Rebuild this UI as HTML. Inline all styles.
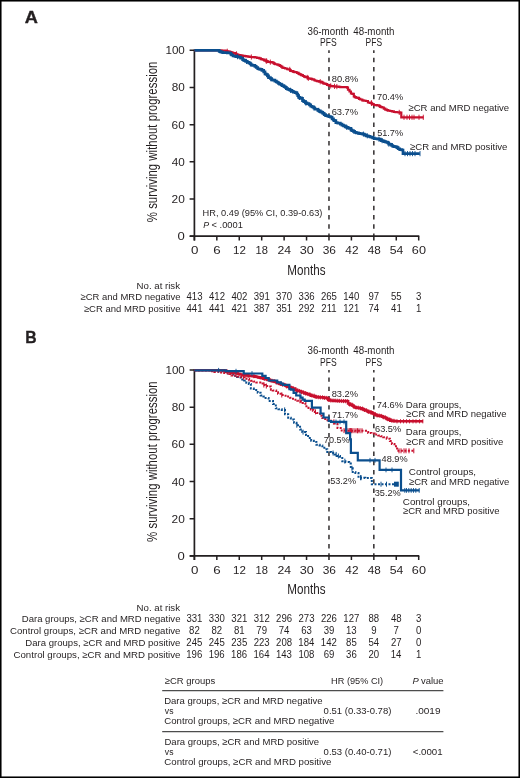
<!DOCTYPE html>
<html><head><meta charset="utf-8"><style>html,body{margin:0;padding:0;background:#fff;width:520px;height:778px;overflow:hidden}svg{display:block;font-family:"Liberation Sans",sans-serif}</style></head>
<body>
<svg style="will-change:transform" width="520" height="778" viewBox="0 0 520 778" font-family="Liberation Sans, sans-serif">
<rect width="520" height="778" fill="#fff"/>
<text x="24.69" y="23.10" font-size="17" textLength="13.15" lengthAdjust="spacingAndGlyphs" font-weight="bold" fill="#231f20" stroke="#231f20" stroke-width="0.35">A</text>
<path d="M194.40 49.60V240.40M189.80 236.20H419.30" stroke="#231f20" stroke-width="1.7" fill="none"/>
<path d="M189.60 236.20H194.40M189.60 199.02H194.40M189.60 161.84H194.40M189.60 124.66H194.40M189.60 87.48H194.40M189.60 50.30H194.40M194.40 236.20V240.40M216.83 236.20V240.40M239.26 236.20V240.40M261.69 236.20V240.40M284.12 236.20V240.40M306.55 236.20V240.40M328.98 236.20V240.40M351.41 236.20V240.40M373.84 236.20V240.40M396.27 236.20V240.40M418.70 236.20V240.40" stroke="#231f20" stroke-width="1.5" fill="none"/>
<text x="177.57" y="240.20" font-size="10.5" textLength="7.30" lengthAdjust="spacingAndGlyphs" fill="#231f20">0</text>
<text x="171.60" y="203.02" font-size="10.5" textLength="13.24" lengthAdjust="spacingAndGlyphs" fill="#231f20">20</text>
<text x="171.76" y="165.84" font-size="10.5" textLength="13.07" lengthAdjust="spacingAndGlyphs" fill="#231f20">40</text>
<text x="171.60" y="128.66" font-size="10.5" textLength="13.24" lengthAdjust="spacingAndGlyphs" fill="#231f20">60</text>
<text x="171.77" y="91.48" font-size="10.5" textLength="13.07" lengthAdjust="spacingAndGlyphs" fill="#231f20">80</text>
<text x="165.43" y="54.30" font-size="10.5" textLength="19.42" lengthAdjust="spacingAndGlyphs" fill="#231f20">100</text>
<text x="190.97" y="254.10" font-size="10.5" textLength="7.42" lengthAdjust="spacingAndGlyphs" fill="#231f20">0</text>
<text x="213.36" y="254.10" font-size="10.5" textLength="7.42" lengthAdjust="spacingAndGlyphs" fill="#231f20">6</text>
<text x="232.99" y="254.10" font-size="10.5" textLength="12.87" lengthAdjust="spacingAndGlyphs" fill="#231f20">12</text>
<text x="255.60" y="254.10" font-size="10.5" textLength="12.41" lengthAdjust="spacingAndGlyphs" fill="#231f20">18</text>
<text x="277.51" y="254.10" font-size="10.5" textLength="13.61" lengthAdjust="spacingAndGlyphs" fill="#231f20">24</text>
<text x="299.79" y="254.10" font-size="10.5" textLength="14.08" lengthAdjust="spacingAndGlyphs" fill="#231f20">30</text>
<text x="322.65" y="254.10" font-size="10.5" textLength="13.28" lengthAdjust="spacingAndGlyphs" fill="#231f20">36</text>
<text x="345.32" y="254.10" font-size="10.5" textLength="13.16" lengthAdjust="spacingAndGlyphs" fill="#231f20">42</text>
<text x="367.76" y="254.10" font-size="10.5" textLength="13.03" lengthAdjust="spacingAndGlyphs" fill="#231f20">48</text>
<text x="389.73" y="254.10" font-size="10.5" textLength="13.58" lengthAdjust="spacingAndGlyphs" fill="#231f20">54</text>
<text x="411.87" y="254.10" font-size="10.5" textLength="14.11" lengthAdjust="spacingAndGlyphs" fill="#231f20">60</text>
<text x="287.37" y="274.70" font-size="14.2" textLength="38.23" lengthAdjust="spacingAndGlyphs" fill="#231f20">Months</text>
<text transform="translate(157.00 142.10) rotate(-90)" x="-80.10" y="0" font-size="14.4" textLength="160.57" lengthAdjust="spacingAndGlyphs" fill="#231f20">% surviving without progression</text>
<text x="307.51" y="34.70" font-size="10" textLength="41.22" lengthAdjust="spacingAndGlyphs" fill="#231f20">36-month</text>
<text x="320.01" y="45.80" font-size="10" textLength="16.67" lengthAdjust="spacingAndGlyphs" fill="#231f20">PFS</text>
<text x="353.31" y="34.70" font-size="10" textLength="41.13" lengthAdjust="spacingAndGlyphs" fill="#231f20">48-month</text>
<text x="365.62" y="45.80" font-size="10" textLength="16.46" lengthAdjust="spacingAndGlyphs" fill="#231f20">PFS</text>
<path d="M328.98 50.30V236.20" stroke="#231f20" stroke-width="1.4" stroke-dasharray="4.45 4.807" stroke-dashoffset="1.86" fill="none"/>
<path d="M373.84 50.30V236.20" stroke="#231f20" stroke-width="1.4" stroke-dasharray="4.45 4.807" stroke-dashoffset="1.86" fill="none"/>
<text x="25.13" y="342.80" font-size="17" textLength="11.37" lengthAdjust="spacingAndGlyphs" font-weight="bold" fill="#231f20" stroke="#231f20" stroke-width="0.35">B</text>
<path d="M194.40 369.30V560.10M189.80 555.90H419.30" stroke="#231f20" stroke-width="1.7" fill="none"/>
<path d="M189.60 555.90H194.40M189.60 518.72H194.40M189.60 481.54H194.40M189.60 444.36H194.40M189.60 407.18H194.40M189.60 370.00H194.40M194.40 555.90V560.10M216.83 555.90V560.10M239.26 555.90V560.10M261.69 555.90V560.10M284.12 555.90V560.10M306.55 555.90V560.10M328.98 555.90V560.10M351.41 555.90V560.10M373.84 555.90V560.10M396.27 555.90V560.10M418.70 555.90V560.10" stroke="#231f20" stroke-width="1.5" fill="none"/>
<text x="177.57" y="559.90" font-size="10.5" textLength="7.30" lengthAdjust="spacingAndGlyphs" fill="#231f20">0</text>
<text x="171.60" y="522.72" font-size="10.5" textLength="13.24" lengthAdjust="spacingAndGlyphs" fill="#231f20">20</text>
<text x="171.76" y="485.54" font-size="10.5" textLength="13.07" lengthAdjust="spacingAndGlyphs" fill="#231f20">40</text>
<text x="171.60" y="448.36" font-size="10.5" textLength="13.24" lengthAdjust="spacingAndGlyphs" fill="#231f20">60</text>
<text x="171.77" y="411.18" font-size="10.5" textLength="13.07" lengthAdjust="spacingAndGlyphs" fill="#231f20">80</text>
<text x="165.43" y="374.00" font-size="10.5" textLength="19.42" lengthAdjust="spacingAndGlyphs" fill="#231f20">100</text>
<text x="190.97" y="573.80" font-size="10.5" textLength="7.42" lengthAdjust="spacingAndGlyphs" fill="#231f20">0</text>
<text x="213.36" y="573.80" font-size="10.5" textLength="7.42" lengthAdjust="spacingAndGlyphs" fill="#231f20">6</text>
<text x="232.99" y="573.80" font-size="10.5" textLength="12.87" lengthAdjust="spacingAndGlyphs" fill="#231f20">12</text>
<text x="255.60" y="573.80" font-size="10.5" textLength="12.41" lengthAdjust="spacingAndGlyphs" fill="#231f20">18</text>
<text x="277.51" y="573.80" font-size="10.5" textLength="13.61" lengthAdjust="spacingAndGlyphs" fill="#231f20">24</text>
<text x="299.79" y="573.80" font-size="10.5" textLength="14.08" lengthAdjust="spacingAndGlyphs" fill="#231f20">30</text>
<text x="322.65" y="573.80" font-size="10.5" textLength="13.28" lengthAdjust="spacingAndGlyphs" fill="#231f20">36</text>
<text x="345.32" y="573.80" font-size="10.5" textLength="13.16" lengthAdjust="spacingAndGlyphs" fill="#231f20">42</text>
<text x="367.76" y="573.80" font-size="10.5" textLength="13.03" lengthAdjust="spacingAndGlyphs" fill="#231f20">48</text>
<text x="389.73" y="573.80" font-size="10.5" textLength="13.58" lengthAdjust="spacingAndGlyphs" fill="#231f20">54</text>
<text x="411.87" y="573.80" font-size="10.5" textLength="14.11" lengthAdjust="spacingAndGlyphs" fill="#231f20">60</text>
<text x="287.37" y="594.40" font-size="14.2" textLength="38.23" lengthAdjust="spacingAndGlyphs" fill="#231f20">Months</text>
<text transform="translate(157.00 461.80) rotate(-90)" x="-80.10" y="0" font-size="14.4" textLength="160.57" lengthAdjust="spacingAndGlyphs" fill="#231f20">% surviving without progression</text>
<text x="307.51" y="354.40" font-size="10" textLength="41.22" lengthAdjust="spacingAndGlyphs" fill="#231f20">36-month</text>
<text x="320.01" y="365.50" font-size="10" textLength="16.67" lengthAdjust="spacingAndGlyphs" fill="#231f20">PFS</text>
<text x="353.31" y="354.40" font-size="10" textLength="41.13" lengthAdjust="spacingAndGlyphs" fill="#231f20">48-month</text>
<text x="365.62" y="365.50" font-size="10" textLength="16.46" lengthAdjust="spacingAndGlyphs" fill="#231f20">PFS</text>
<path d="M328.98 370.00V555.90" stroke="#231f20" stroke-width="1.4" stroke-dasharray="4.45 4.807" stroke-dashoffset="1.86" fill="none"/>
<path d="M373.84 370.00V555.90" stroke="#231f20" stroke-width="1.4" stroke-dasharray="4.45 4.807" stroke-dashoffset="1.86" fill="none"/>
<path d="M194.40 50.30 L219.20 50.30 L220.24 50.30 L220.24 50.39 L221.50 50.39 L221.50 50.50 L223.16 50.50 L223.16 50.66 L223.96 50.66 L223.96 50.71 L225.75 50.71 L225.75 51.08 L227.30 51.08 L227.30 51.30 L228.65 51.30 L228.65 51.60 L230.18 51.60 L230.18 52.15 L231.52 52.15 L231.52 52.48 L233.10 52.48 L233.10 53.10 L235.46 53.10 L235.46 53.91 L236.48 53.91 L236.48 54.33 L237.57 54.33 L237.57 54.88 L238.80 54.88 L238.80 55.20 L240.33 55.20 L240.33 55.40 L241.67 55.40 L241.67 55.68 L242.96 55.68 L242.96 55.91 L244.60 55.91 L244.60 56.20 L246.28 56.20 L246.28 56.41 L248.13 56.41 L248.13 56.64 L249.58 56.64 L249.58 56.85 L250.40 56.85 L250.40 57.00 L252.03 57.00 L252.03 57.08 L252.98 57.08 L252.98 57.11 L254.76 57.11 L254.76 57.29 L256.20 57.29 L256.20 57.50 L257.17 57.50 L257.17 57.80 L259.32 57.80 L259.32 58.45 L260.82 58.45 L260.82 59.18 L261.90 59.18 L261.90 59.30 L263.64 59.30 L263.64 59.98 L264.50 59.98 L264.50 60.72 L266.40 60.72 L266.40 61.14 L267.70 61.14 L267.70 61.90 L269.00 61.90 L269.00 61.98 L269.93 61.98 L269.93 62.14 L271.70 62.14 L271.70 62.40 L273.38 62.40 L273.38 63.16 L274.38 63.16 L274.38 63.88 L275.20 63.88 L275.20 64.23 L277.27 64.23 L277.27 64.65 L278.50 64.65 L278.50 65.10 L279.81 65.10 L279.81 65.86 L281.06 65.86 L281.06 66.53 L282.27 66.53 L282.27 67.55 L283.55 67.55 L283.55 67.99 L285.20 67.99 L285.20 68.50 L287.19 68.50 L287.19 69.25 L288.57 69.25 L288.57 69.41 L289.98 69.41 L289.98 70.20 L290.67 70.20 L290.67 71.00 L291.90 71.00 L291.90 71.20 L293.32 71.20 L293.32 71.96 L294.53 71.96 L294.53 72.08 L296.01 72.08 L296.01 72.25 L297.08 72.25 L297.08 72.95 L298.60 72.95 L298.60 73.90 L299.74 73.90 L299.74 74.46 L301.19 74.46 L301.19 75.09 L302.85 75.09 L302.85 76.01 L304.09 76.01 L304.09 76.56 L305.40 76.56 L305.40 77.20 L307.13 77.20 L307.13 77.49 L307.85 77.49 L307.85 78.27 L309.31 78.27 L309.31 78.57 L311.00 78.57 L311.00 78.83 L312.10 78.83 L312.10 79.30 L313.78 79.30 L313.78 79.74 L314.62 79.74 L314.62 80.50 L315.77 80.50 L315.77 80.73 L316.93 80.73 L316.93 81.09 L318.80 81.09 L318.80 81.70 L320.80 81.70 L320.80 81.95 L322.17 81.95 L322.17 82.68 L323.22 82.68 L323.22 83.44 L324.11 83.44 L324.11 83.68 L325.60 83.68 L325.60 84.00 L326.99 84.00 L326.99 84.78 L328.21 84.78 L328.21 85.21 L329.60 85.21 L329.60 85.90 L331.27 85.90 L331.27 85.99 L332.27 85.99 L332.27 86.18 L333.36 86.18 L333.36 86.35 L334.54 86.35 L334.54 86.41 L335.73 86.41 L335.73 86.56 L336.90 86.56 L336.90 86.72 L338.74 86.72 L338.74 86.85 L339.58 86.85 L339.58 86.96 L340.24 86.96 L340.24 87.03 L342.10 87.03 L342.10 87.11 L343.88 87.11 L343.88 87.17 L345.80 87.17 L345.80 87.20 L347.06 87.20 L347.06 87.56 L347.98 87.56 L347.98 89.75 L349.50 89.75 L349.50 91.50 L350.95 91.50 L350.95 93.51 L352.37 93.51 L352.37 93.91 L353.80 93.91 L353.80 96.40 L354.75 96.40 L354.75 97.12 L355.88 97.12 L355.88 97.58 L357.52 97.58 L357.52 97.95 L358.97 97.95 L358.97 98.92 L360.27 98.92 L360.27 99.51 L362.30 99.51 L362.30 100.40 L363.52 100.40 L363.52 100.66 L364.52 100.66 L364.52 100.74 L366.00 100.74 L366.00 101.00 L367.92 101.00 L367.92 102.52 L369.69 102.52 L369.69 102.79 L371.48 102.79 L371.48 103.39 L372.17 103.39 L372.17 104.00 L373.70 104.00 L373.70 105.00 L375.33 105.00 L375.33 105.19 L377.06 105.19 L377.06 105.33 L379.32 105.33 L379.32 106.15 L380.21 106.15 L380.21 106.88 L381.19 106.88 L381.19 107.03 L382.30 107.03 L382.30 107.50 L383.81 107.50 L383.81 108.56 L385.32 108.56 L385.32 109.53 L386.90 109.53 L386.90 110.20 L387.98 110.20 L387.98 110.61 L389.28 110.61 L389.28 110.77 L390.25 110.77 L390.25 111.01 L391.90 111.01 L391.90 111.41 L393.80 111.41 L393.80 112.00 L395.54 112.00 L395.54 112.11 L396.74 112.11 L396.74 112.24 L398.51 112.24 L398.51 112.41 L400.03 112.41 L400.03 112.53 L401.30 112.53 L401.30 112.70 L401.30 117.30 L423.60 117.30" stroke="#c8102e" stroke-width="2.2" fill="none" stroke-linejoin="miter"/>
<path d="M227.30 48.70V53.90M236.47 51.31V56.51M251.36 54.40V59.60M266.01 58.12V63.32M266.64 58.54V63.74M270.39 59.54V64.74M289.74 66.81V72.01M307.30 74.89V80.09M308.36 75.67V80.87M320.24 79.10V84.30M330.69 83.30V88.50M334.50 83.75V88.95M336.84 83.96V89.16M371.38 100.19V105.39M371.56 100.79V105.99M399.24 109.81V115.01M404.00 114.70V119.90M407.00 114.70V119.90M409.50 114.70V119.90M412.00 114.70V119.90M414.00 114.70V119.90M419.00 114.70V119.90M423.30 114.70V119.90" stroke="#c8102e" stroke-width="0.9" fill="none"/>
<path d="M194.40 50.30 L218.50 50.30 L219.20 50.30 L219.20 51.30 L220.41 51.30 L220.41 51.80 L221.50 51.80 L221.50 52.20 L222.73 52.20 L222.73 52.56 L224.95 52.56 L224.95 52.62 L225.99 52.62 L225.99 52.71 L227.30 52.71 L227.30 52.80 L229.65 52.80 L229.65 52.99 L230.80 52.99 L230.80 54.20 L231.53 54.20 L231.53 55.02 L233.10 55.02 L233.10 56.00 L235.00 56.00 L235.00 56.38 L236.40 56.38 L236.40 56.65 L238.10 56.65 L238.10 57.00 L238.80 57.00 L238.80 57.10 L240.58 57.10 L240.58 58.14 L242.63 58.14 L242.63 59.58 L243.43 59.58 L243.43 60.14 L244.60 60.14 L244.60 60.60 L245.68 60.60 L245.68 61.42 L247.30 61.42 L247.30 62.30 L249.11 62.30 L249.11 63.09 L250.40 63.09 L250.40 64.00 L251.25 64.00 L251.25 65.07 L252.71 65.07 L252.71 65.42 L254.87 65.42 L254.87 66.42 L256.20 66.42 L256.20 67.50 L257.75 67.50 L257.75 68.74 L259.09 68.74 L259.09 69.07 L260.39 69.07 L260.39 69.34 L261.90 69.34 L261.90 70.40 L263.70 70.40 L263.70 71.81 L265.00 71.81 L265.00 73.90 L266.13 73.90 L266.13 74.51 L267.40 74.51 L267.40 75.91 L268.56 75.91 L268.56 77.76 L270.35 77.76 L270.35 78.48 L271.70 78.48 L271.70 79.90 L272.98 79.90 L272.98 80.15 L274.89 80.15 L274.89 81.15 L276.41 81.15 L276.41 82.00 L277.49 82.00 L277.49 82.49 L278.50 82.49 L278.50 83.30 L279.56 83.30 L279.56 84.04 L281.20 84.04 L281.20 84.65 L282.02 84.65 L282.02 85.63 L283.94 85.63 L283.94 86.60 L285.20 86.60 L285.20 87.30 L286.35 87.30 L286.35 88.68 L287.79 88.68 L287.79 89.43 L289.39 89.43 L289.39 89.88 L290.45 89.88 L290.45 90.33 L291.90 90.33 L291.90 91.40 L293.35 91.40 L293.35 92.05 L295.16 92.05 L295.16 92.58 L296.83 92.58 L296.83 93.99 L297.75 93.99 L297.75 95.66 L298.60 95.66 L298.60 97.40 L299.61 97.40 L299.61 97.90 L301.43 97.90 L301.43 98.41 L302.52 98.41 L302.52 100.68 L303.76 100.68 L303.76 101.66 L305.40 101.66 L305.40 102.80 L307.00 102.80 L307.00 103.57 L308.73 103.57 L308.73 103.99 L309.48 103.99 L309.48 104.89 L310.72 104.89 L310.72 106.25 L312.10 106.25 L312.10 106.90 L313.76 106.90 L313.76 107.96 L314.74 107.96 L314.74 109.03 L315.97 109.03 L315.97 109.27 L317.83 109.27 L317.83 110.38 L318.80 110.38 L318.80 110.90 L320.33 110.90 L320.33 111.97 L321.84 111.97 L321.84 112.42 L322.80 112.42 L322.80 113.43 L324.21 113.43 L324.21 114.68 L325.60 114.68 L325.60 115.60 L327.74 115.60 L327.74 116.16 L329.00 116.16 L329.00 116.60 L330.57 116.60 L330.57 117.13 L332.10 117.13 L332.10 118.90 L333.48 118.90 L333.48 120.26 L334.36 120.26 L334.36 120.69 L335.84 120.69 L335.84 122.54 L337.30 122.54 L337.30 123.00 L338.53 123.00 L338.53 123.21 L340.33 123.21 L340.33 124.14 L341.94 124.14 L341.94 125.10 L343.50 125.10 L343.50 125.83 L345.19 125.83 L345.19 126.78 L346.60 126.78 L346.60 127.31 L347.80 127.31 L347.80 127.74 L348.80 127.74 L348.80 128.30 L350.97 128.30 L350.97 129.82 L351.83 129.82 L351.83 130.63 L353.42 130.63 L353.42 131.40 L354.60 131.40 L354.60 132.30 L356.30 132.30 L356.30 132.86 L358.38 132.86 L358.38 133.40 L359.77 133.40 L359.77 133.59 L361.97 133.59 L361.97 133.79 L362.96 133.79 L362.96 134.12 L364.22 134.12 L364.22 134.67 L365.20 134.67 L365.20 135.25 L366.20 135.25 L366.20 135.80 L367.81 135.80 L367.81 136.05 L368.76 136.05 L368.76 136.33 L370.09 136.33 L370.09 137.01 L371.11 137.01 L371.11 137.13 L372.62 137.13 L372.62 137.83 L374.20 137.83 L374.20 138.60 L376.17 138.60 L376.17 138.77 L377.37 138.77 L377.37 138.94 L378.80 138.94 L378.80 139.20 L380.32 139.20 L380.32 139.96 L381.35 139.96 L381.35 140.62 L383.10 140.62 L383.10 141.14 L384.36 141.14 L384.36 141.69 L385.78 141.69 L385.78 142.18 L387.35 142.18 L387.35 142.45 L388.00 142.45 L388.00 143.00 L388.72 143.00 L388.72 144.16 L390.05 144.16 L390.05 144.45 L391.58 144.45 L391.58 145.50 L392.83 145.50 L392.83 146.35 L394.26 146.35 L394.26 146.55 L396.20 146.55 L396.20 147.10 L397.31 147.10 L397.31 147.62 L398.18 147.62 L398.18 148.76 L399.74 148.76 L399.74 149.70 L401.90 149.70 L401.90 150.00 L403.00 150.00 L403.00 153.60 L419.80 153.60" stroke="#0b4f8e" stroke-width="2.7" fill="none" stroke-linejoin="miter"/>
<path d="M237.53 54.05V59.25M246.55 58.82V64.02M267.89 73.31V78.51M270.88 75.88V81.08M290.49 87.73V92.93M299.36 94.80V100.00M299.52 94.80V100.00M305.65 100.20V105.40M306.23 100.20V105.40M318.77 107.78V112.98M346.65 124.71V129.91M363.41 131.52V136.72M367.31 133.20V138.40M378.94 136.60V141.80M382.12 138.02V143.22M388.88 141.56V146.76M405.00 151.00V156.20M407.50 151.00V156.20M410.00 151.00V156.20M412.50 151.00V156.20M415.00 151.00V156.20M420.00 151.00V156.20" stroke="#0b4f8e" stroke-width="0.9" fill="none"/>
<path d="M194.40 370.30 L220.00 370.30 L221.00 370.30 L221.00 371.20 L224.16 371.20 L224.16 371.92 L228.00 371.92 L228.00 373.50 L231.75 373.50 L231.75 374.45 L235.00 374.45 L235.00 375.80 L237.09 375.80 L237.09 376.93 L239.60 376.93 L239.60 377.60 L241.11 377.60 L241.11 379.43 L244.20 379.43 L244.20 380.50 L246.31 380.50 L246.31 382.79 L248.80 382.79 L248.80 383.90 L250.87 383.90 L250.87 388.61 L253.80 388.61 L253.80 390.00 L257.74 390.00 L257.74 392.87 L260.60 392.87 L260.60 395.40 L263.47 395.40 L263.47 396.46 L265.60 396.46 L265.60 398.10 L268.60 398.10 L268.60 401.00 L273.00 401.00 L273.00 404.00 L275.81 404.00 L275.81 408.37 L278.50 408.37 L278.50 409.30 L281.76 409.30 L281.76 409.90 L285.00 409.90 L285.00 414.20 L288.18 414.20 L288.18 417.71 L290.80 417.71 L290.80 419.40 L294.05 419.40 L294.05 422.79 L296.50 422.79 L296.50 425.20 L300.06 425.20 L300.06 429.39 L302.30 429.39 L302.30 432.10 L306.02 432.10 L306.02 434.94 L308.10 434.94 L308.10 437.90 L311.17 437.90 L311.17 440.63 L313.80 440.63 L313.80 441.90 L316.39 441.90 L316.39 444.87 L319.60 444.87 L319.60 445.40 L322.34 445.40 L322.34 447.86 L325.40 447.86 L325.40 449.20 L327.28 449.20 L327.28 452.08 L331.20 452.08 L331.20 453.00 L334.63 453.00 L334.63 454.41 L336.90 454.41 L336.90 456.00 L340.00 456.00 L340.00 456.80 L342.27 456.80 L342.27 461.14 L345.40 461.14 L345.40 462.00 L349.20 462.00 L349.20 463.60 L350.80 463.60 L350.80 468.30 L352.71 468.30 L352.71 471.96 L355.40 471.96 L355.40 473.00 L358.50 473.00 L358.50 477.70 L362.30 477.70 L362.30 477.81 L365.30 477.81 L365.30 477.89 L369.35 477.89 L369.35 478.07 L371.80 478.07 L371.80 478.20 L371.80 484.20 L398.50 484.20" stroke="#0b4f8e" stroke-width="2.0" fill="none" stroke-linejoin="miter" stroke-dasharray="2 1.5"/>
<path d="M284.67 407.40V412.40M296.81 422.70V427.70M303.05 429.60V434.60M333.07 450.50V455.50M336.16 451.91V456.91M338.39 453.50V458.50M344.87 458.64V463.64M351.99 465.80V470.80M360.51 475.20V480.20M361.13 475.20V480.20M381.00 481.70V486.70M386.50 481.70V486.70M394.50 481.70V486.70M395.50 481.70V486.70M396.50 481.70V486.70M397.50 481.70V486.70M398.30 481.70V486.70" stroke="#0b4f8e" stroke-width="1.0" fill="none"/>
<path d="M194.40 370.30 L209.60 370.30 L212.00 370.30 L212.00 371.20 L214.36 371.20 L214.36 371.90 L218.65 371.90 L218.65 372.60 L222.30 372.60 L222.30 373.00 L226.01 373.00 L226.01 373.27 L229.28 373.27 L229.28 373.99 L231.49 373.99 L231.49 375.48 L233.80 375.48 L233.80 375.80 L237.44 375.80 L237.44 376.47 L239.51 376.47 L239.51 376.79 L241.49 376.79 L241.49 377.29 L245.40 377.29 L245.40 378.70 L249.18 378.70 L249.18 380.19 L250.96 380.19 L250.96 380.66 L253.50 380.66 L253.50 381.60 L256.34 381.60 L256.34 382.49 L260.30 382.49 L260.30 383.60 L263.48 383.60 L263.48 385.03 L265.60 385.03 L265.60 386.00 L269.22 386.00 L269.22 386.44 L270.90 386.44 L270.90 389.70 L272.67 389.70 L272.67 390.38 L276.20 390.38 L276.20 392.30 L278.03 392.30 L278.03 393.63 L281.40 393.63 L281.40 395.00 L283.94 395.00 L283.94 395.63 L286.70 395.63 L286.70 396.60 L289.92 396.60 L289.92 397.80 L292.00 397.80 L292.00 398.70 L295.45 398.70 L295.45 399.81 L297.30 399.81 L297.30 400.80 L300.91 400.80 L300.91 401.72 L302.60 401.72 L302.60 402.90 L305.40 402.90 L305.40 406.30 L308.49 406.30 L308.49 407.89 L310.80 407.89 L310.80 409.40 L313.40 409.40 L313.40 411.88 L316.50 411.88 L316.50 412.90 L320.06 412.90 L320.06 415.72 L322.30 415.72 L322.30 418.10 L325.20 418.10 L325.20 420.20 L327.99 420.20 L327.99 420.86 L331.00 420.86 L331.00 421.80 L333.90 421.80 L333.90 423.60 L337.50 423.60 L337.50 428.00 L341.70 428.00 L341.70 430.60 L345.01 430.60 L345.01 430.61 L347.36 430.61 L347.36 430.65 L351.25 430.65 L351.25 430.68 L354.94 430.68 L354.94 430.71 L357.00 430.71 L357.00 430.75 L360.72 430.75 L360.72 430.76 L362.50 430.76 L362.50 430.80 L366.00 430.80 L366.00 431.90 L368.18 431.90 L368.18 432.91 L371.38 432.91 L371.38 433.46 L374.60 433.46 L374.60 434.50 L378.30 434.50 L378.30 435.38 L380.65 435.38 L380.65 436.20 L383.30 436.20 L383.30 437.30 L386.71 437.30 L386.71 438.76 L389.89 438.76 L389.89 441.00 L391.90 441.00 L391.90 444.00 L394.48 444.00 L394.48 446.25 L397.10 446.25 L397.10 450.80 L414.40 450.80" stroke="#c8102e" stroke-width="2.0" fill="none" stroke-linejoin="miter" stroke-dasharray="2 1.5"/>
<path d="M243.56 374.79V379.79M263.85 382.53V387.53M266.31 383.50V388.50M281.77 392.50V397.50M299.95 398.30V403.30M312.37 406.90V411.90M315.50 409.38V414.38M333.88 419.30V424.30M350.15 428.15V433.15M350.16 428.15V433.15M351.70 428.18V433.18M357.56 428.25V433.25M344.00 428.10V433.10M346.00 428.11V433.11M348.00 428.15V433.15M350.00 428.15V433.15M352.00 428.18V433.18M354.00 428.18V433.18M356.00 428.21V433.21M358.00 428.25V433.25M360.00 428.25V433.25M362.00 428.26V433.26M399.00 448.30V453.30M401.00 448.30V453.30M404.00 448.30V453.30M406.00 448.30V453.30M409.00 448.30V453.30M413.80 448.30V453.30" stroke="#c8102e" stroke-width="1.0" fill="none"/>
<path d="M194.40 370.30 L222.00 370.30 L224.03 370.30 L224.03 370.46 L224.82 370.46 L224.82 370.63 L225.80 370.63 L225.80 370.70 L226.50 370.70 L226.50 371.63 L227.40 371.63 L227.40 371.76 L229.03 371.76 L229.03 372.02 L230.26 372.02 L230.26 372.14 L232.16 372.14 L232.16 372.61 L233.80 372.61 L233.80 373.00 L234.75 373.00 L234.75 373.08 L236.55 373.08 L236.55 373.34 L237.58 373.34 L237.58 373.70 L238.98 373.70 L238.98 374.07 L240.26 374.07 L240.26 374.56 L242.51 374.56 L242.51 375.00 L244.09 375.00 L244.09 375.18 L245.40 375.18 L245.40 375.30 L247.23 375.30 L247.23 375.49 L249.11 375.49 L249.11 375.74 L250.57 375.74 L250.57 375.99 L252.51 375.99 L252.51 376.14 L254.04 376.14 L254.04 376.33 L255.17 376.33 L255.17 376.59 L256.15 376.59 L256.15 376.82 L256.90 376.82 L256.90 377.00 L258.23 377.00 L258.23 377.37 L259.72 377.37 L259.72 377.67 L260.70 377.67 L260.70 377.94 L261.70 377.94 L261.70 378.26 L263.42 378.26 L263.42 378.78 L265.60 378.78 L265.60 379.10 L267.32 379.10 L267.32 379.56 L268.10 379.56 L268.10 379.65 L269.06 379.65 L269.06 380.09 L270.27 380.09 L270.27 380.51 L271.34 380.51 L271.34 380.89 L272.94 380.89 L272.94 381.14 L274.51 381.14 L274.51 381.66 L276.20 381.66 L276.20 382.30 L276.96 382.30 L276.96 383.06 L278.43 383.06 L278.43 383.28 L279.52 383.28 L279.52 383.65 L280.80 383.65 L280.80 384.34 L282.55 384.34 L282.55 384.66 L284.39 384.66 L284.39 384.95 L285.83 384.95 L285.83 385.73 L286.70 385.73 L286.70 386.50 L288.00 386.50 L288.00 386.75 L289.41 386.75 L289.41 387.19 L290.66 387.19 L290.66 387.58 L291.66 387.58 L291.66 387.84 L292.85 387.84 L292.85 388.63 L295.20 388.63 L295.20 389.70 L297.15 389.70 L297.15 390.84 L298.80 390.84 L298.80 391.04 L300.72 391.04 L300.72 391.45 L301.46 391.45 L301.46 392.09 L302.60 392.09 L302.60 392.50 L304.35 392.50 L304.35 393.14 L305.26 393.14 L305.26 393.33 L306.49 393.33 L306.49 394.02 L308.92 394.02 L308.92 394.52 L310.00 394.52 L310.00 395.00 L311.10 395.00 L311.10 395.63 L312.05 395.63 L312.05 395.74 L314.20 395.74 L314.20 396.42 L315.36 396.42 L315.36 396.84 L316.54 396.84 L316.54 397.15 L318.80 397.15 L318.80 397.30 L320.35 397.30 L320.35 397.38 L322.93 397.38 L322.93 397.52 L324.28 397.52 L324.28 397.84 L325.38 397.84 L325.38 397.90 L326.50 397.90 L326.50 398.00 L328.22 398.00 L328.22 399.87 L330.00 399.87 L330.00 400.50 L331.13 400.50 L331.13 400.55 L333.04 400.55 L333.04 400.60 L334.34 400.60 L334.34 400.68 L335.93 400.68 L335.93 400.71 L337.00 400.71 L337.00 400.77 L337.69 400.77 L337.69 400.86 L338.81 400.86 L338.81 400.94 L340.46 400.94 L340.46 400.97 L342.15 400.97 L342.15 401.06 L343.56 401.06 L343.56 401.14 L344.83 401.14 L344.83 401.17 L346.20 401.17 L346.20 401.20 L348.10 401.20 L348.10 403.49 L349.60 403.49 L349.60 404.60 L352.12 404.60 L352.12 405.49 L353.25 405.49 L353.25 406.31 L354.20 406.31 L354.20 407.30 L355.82 407.30 L355.82 407.58 L357.23 407.58 L357.23 407.71 L358.96 407.71 L358.96 408.07 L359.77 408.07 L359.77 408.29 L361.20 408.29 L361.20 408.60 L362.59 408.60 L362.59 409.24 L363.89 409.24 L363.89 409.86 L365.25 409.86 L365.25 410.44 L367.00 410.44 L367.00 411.00 L368.28 411.00 L368.28 411.86 L370.69 411.86 L370.69 412.33 L371.95 412.33 L371.95 413.10 L372.97 413.10 L372.97 413.51 L374.60 413.51 L374.60 414.60 L375.81 414.60 L375.81 414.97 L377.05 414.97 L377.05 415.47 L378.36 415.47 L378.36 415.60 L380.11 415.60 L380.11 415.96 L381.99 415.96 L381.99 416.60 L383.30 416.60 L383.30 417.20 L384.05 417.20 L384.05 417.52 L385.87 417.52 L385.87 418.16 L387.05 418.16 L387.05 419.13 L389.04 419.13 L389.04 419.65 L390.20 419.65 L390.20 420.60 L391.82 420.60 L391.82 420.73 L392.98 420.73 L392.98 420.86 L394.05 420.86 L394.05 421.05 L395.40 421.05 L395.40 421.30 L423.10 421.30" stroke="#c8102e" stroke-width="2.6" fill="none" stroke-linejoin="miter"/>
<path d="M247.28 373.39V377.59M248.56 373.39V377.59M248.92 373.39V377.59M253.89 374.04V378.24M264.21 376.68V380.88M266.60 377.00V381.20M270.00 377.99V382.19M272.10 378.79V382.99M274.20 379.04V383.24M276.30 380.20V384.40M278.40 380.96V385.16M280.50 381.55V385.75M282.60 382.56V386.76M284.70 382.85V387.05M286.80 384.40V388.60M288.90 384.65V388.85M291.00 385.48V389.68M293.10 386.53V390.73M295.20 387.60V391.80M297.30 388.74V392.94M299.40 388.94V393.14M301.50 389.99V394.19M303.60 390.40V394.60M305.70 391.23V395.43M307.80 391.92V396.12M309.90 392.42V396.62M312.00 393.53V397.73M314.10 393.64V397.84M316.20 394.74V398.94M318.30 395.05V399.25M320.40 395.28V399.48M322.50 395.28V399.48M324.60 395.74V399.94M326.70 395.90V400.10M328.80 397.77V401.97M330.90 398.40V402.60M333.00 398.45V402.65M335.10 398.58V402.78M337.20 398.67V402.87M339.30 398.84V403.04M341.40 398.87V403.07M343.50 398.96V403.16M345.60 399.07V403.27M347.70 399.10V403.30M349.80 402.50V406.70M351.90 402.50V406.70M354.00 404.21V408.41M356.10 405.48V409.68M358.20 405.61V409.81M360.30 406.19V410.39M362.40 406.50V410.70M364.50 407.76V411.96M366.60 408.34V412.54M368.70 409.76V413.96M370.80 410.23V414.43M372.90 411.00V415.20M375.00 412.50V416.70M377.10 413.37V417.57M379.20 413.50V417.70M381.30 413.86V418.06M383.40 415.10V419.30M385.50 415.42V419.62M387.60 417.03V421.23M389.70 417.55V421.75M391.80 418.50V422.70M393.90 418.76V422.96M397.00 419.20V423.40M400.50 419.20V423.40M403.50 419.20V423.40M406.50 419.20V423.40M409.50 419.20V423.40M413.00 419.20V423.40M416.00 419.20V423.40M419.50 419.20V423.40M422.80 419.20V423.40" stroke="#c8102e" stroke-width="0.9" fill="none"/>
<path d="M194.4 370.3H225.80V371.20H243.70V373.50H262.30V375.90H265.60V378.00H268.70V380.50H277.20V382.30H280.90V383.70H283.00V384.90H289.40V389.20H291.00V389.70H293.60V392.90H296.20V395.50H300.50V397.60H302.60V399.70H304.70V400.80H311.90V407.70H320.60V413.50H323.50V417.50H328.70V421.00H331.00V421.90H346.20V433.20H350.10V439.30H350.90V452.80H357.80V460.30H379.60V469.90H401.00V490.40H419.4" stroke="#0b4f8e" stroke-width="2.2" fill="none"/>
<path d="M218.60 367.90V372.70M236.00 368.80V373.60M252.00 371.10V375.90M300.00 392.50V397.30M336.00 419.50V424.30M340.00 419.50V424.30M344.00 419.50V424.30M370.00 457.90V462.70M375.00 457.90V462.70M386.00 467.50V472.30M392.00 467.50V472.30M404.80 488.00V492.80M406.50 488.00V492.80M408.80 488.00V492.80M411.20 488.00V492.80M413.50 488.00V492.80M415.80 488.00V492.80M419.20 488.00V492.80" stroke="#0b4f8e" stroke-width="0.9" fill="none"/>
<text x="331.78" y="82.10" font-size="9.4" textLength="26.45" lengthAdjust="spacingAndGlyphs" fill="#231f20">80.8%</text>
<text x="377.04" y="100.30" font-size="9.4" textLength="26.09" lengthAdjust="spacingAndGlyphs" fill="#231f20">70.4%</text>
<text x="331.63" y="115.30" font-size="9.4" textLength="26.50" lengthAdjust="spacingAndGlyphs" fill="#231f20">63.7%</text>
<text x="377.13" y="135.60" font-size="9.4" textLength="25.99" lengthAdjust="spacingAndGlyphs" fill="#231f20">51.7%</text>
<text x="202.56" y="215.80" font-size="9.4" textLength="119.90" lengthAdjust="spacingAndGlyphs" fill="#231f20">HR, 0.49 (95% CI, 0.39-0.63)</text>
<text x="203.33" y="227.80" font-size="9.4" textLength="5.93" lengthAdjust="spacingAndGlyphs" font-style="italic" fill="#231f20">P</text>
<text x="211.54" y="227.80" font-size="9.4" textLength="31.28" lengthAdjust="spacingAndGlyphs" fill="#231f20">&lt; .0001</text>
<text x="408.51" y="111.30" font-size="9.8" textLength="100.65" lengthAdjust="spacingAndGlyphs" fill="#231f20">≥CR and MRD negative</text>
<text x="410.01" y="149.60" font-size="9.8" textLength="97.45" lengthAdjust="spacingAndGlyphs" fill="#231f20">≥CR and MRD positive</text>
<text x="136.63" y="289.30" font-size="9.4" textLength="43.38" lengthAdjust="spacingAndGlyphs" fill="#231f20">No. at risk</text>
<text x="80.52" y="299.80" font-size="9.4" textLength="99.94" lengthAdjust="spacingAndGlyphs" fill="#231f20">≥CR and MRD negative</text>
<text x="83.92" y="311.50" font-size="9.4" textLength="96.54" lengthAdjust="spacingAndGlyphs" fill="#231f20">≥CR and MRD positive</text>
<text x="186.51" y="299.80" font-size="10.0" textLength="16.01" lengthAdjust="spacingAndGlyphs" fill="#231f20">413</text>
<text x="208.99" y="299.80" font-size="10.0" textLength="16.01" lengthAdjust="spacingAndGlyphs" fill="#231f20">412</text>
<text x="231.42" y="299.80" font-size="10.0" textLength="16.01" lengthAdjust="spacingAndGlyphs" fill="#231f20">402</text>
<text x="253.73" y="299.80" font-size="10.0" textLength="16.01" lengthAdjust="spacingAndGlyphs" fill="#231f20">391</text>
<text x="276.11" y="299.80" font-size="10.0" textLength="16.01" lengthAdjust="spacingAndGlyphs" fill="#231f20">370</text>
<text x="298.56" y="299.80" font-size="10.0" textLength="16.01" lengthAdjust="spacingAndGlyphs" fill="#231f20">336</text>
<text x="320.94" y="299.80" font-size="10.0" textLength="16.01" lengthAdjust="spacingAndGlyphs" fill="#231f20">265</text>
<text x="343.23" y="299.80" font-size="10.0" textLength="16.01" lengthAdjust="spacingAndGlyphs" fill="#231f20">140</text>
<text x="368.54" y="299.80" font-size="10.0" textLength="10.67" lengthAdjust="spacingAndGlyphs" fill="#231f20">97</text>
<text x="390.94" y="299.80" font-size="10.0" textLength="10.67" lengthAdjust="spacingAndGlyphs" fill="#231f20">55</text>
<text x="416.04" y="299.80" font-size="10.0" textLength="5.34" lengthAdjust="spacingAndGlyphs" fill="#231f20">3</text>
<text x="186.53" y="311.50" font-size="10.0" textLength="16.01" lengthAdjust="spacingAndGlyphs" fill="#231f20">441</text>
<text x="208.96" y="311.50" font-size="10.0" textLength="16.01" lengthAdjust="spacingAndGlyphs" fill="#231f20">441</text>
<text x="231.39" y="311.50" font-size="10.0" textLength="16.01" lengthAdjust="spacingAndGlyphs" fill="#231f20">421</text>
<text x="253.75" y="311.50" font-size="10.0" textLength="16.01" lengthAdjust="spacingAndGlyphs" fill="#231f20">387</text>
<text x="276.16" y="311.50" font-size="10.0" textLength="16.01" lengthAdjust="spacingAndGlyphs" fill="#231f20">351</text>
<text x="298.56" y="311.50" font-size="10.0" textLength="16.01" lengthAdjust="spacingAndGlyphs" fill="#231f20">292</text>
<text x="321.30" y="311.50" font-size="10.0" textLength="15.30" lengthAdjust="spacingAndGlyphs" fill="#231f20">211</text>
<text x="343.28" y="311.50" font-size="10.0" textLength="16.01" lengthAdjust="spacingAndGlyphs" fill="#231f20">121</text>
<text x="368.42" y="311.50" font-size="10.0" textLength="10.67" lengthAdjust="spacingAndGlyphs" fill="#231f20">74</text>
<text x="391.06" y="311.50" font-size="10.0" textLength="10.67" lengthAdjust="spacingAndGlyphs" fill="#231f20">41</text>
<text x="415.89" y="311.50" font-size="10.0" textLength="5.34" lengthAdjust="spacingAndGlyphs" fill="#231f20">1</text>
<text x="331.68" y="396.50" font-size="9.4" textLength="26.35" lengthAdjust="spacingAndGlyphs" fill="#231f20">83.2%</text>
<text x="331.94" y="417.60" font-size="9.4" textLength="25.98" lengthAdjust="spacingAndGlyphs" fill="#231f20">71.7%</text>
<text x="323.85" y="443.00" font-size="9.4" textLength="25.78" lengthAdjust="spacingAndGlyphs" fill="#231f20">70.5%</text>
<text x="330.13" y="484.20" font-size="9.4" textLength="25.89" lengthAdjust="spacingAndGlyphs" fill="#231f20">53.2%</text>
<text x="376.74" y="408.20" font-size="9.4" textLength="26.29" lengthAdjust="spacingAndGlyphs" fill="#231f20">74.6%</text>
<text x="375.04" y="431.60" font-size="9.4" textLength="26.19" lengthAdjust="spacingAndGlyphs" fill="#231f20">63.5%</text>
<text x="381.52" y="461.70" font-size="9.4" textLength="26.11" lengthAdjust="spacingAndGlyphs" fill="#231f20">48.9%</text>
<text x="374.73" y="495.50" font-size="9.4" textLength="26.09" lengthAdjust="spacingAndGlyphs" fill="#231f20">35.2%</text>
<text x="405.83" y="407.70" font-size="9.8" textLength="55.70" lengthAdjust="spacingAndGlyphs" fill="#231f20">Dara groups,</text>
<text x="406.32" y="417.00" font-size="9.8" textLength="100.25" lengthAdjust="spacingAndGlyphs" fill="#231f20">≥CR and MRD negative</text>
<text x="405.83" y="435.30" font-size="9.8" textLength="55.70" lengthAdjust="spacingAndGlyphs" fill="#231f20">Dara groups,</text>
<text x="406.31" y="444.80" font-size="9.8" textLength="96.95" lengthAdjust="spacingAndGlyphs" fill="#231f20">≥CR and MRD positive</text>
<text x="408.81" y="475.10" font-size="9.8" textLength="67.25" lengthAdjust="spacingAndGlyphs" fill="#231f20">Control groups,</text>
<text x="409.02" y="484.60" font-size="9.8" textLength="100.25" lengthAdjust="spacingAndGlyphs" fill="#231f20">≥CR and MRD negative</text>
<text x="402.81" y="504.50" font-size="9.8" textLength="67.25" lengthAdjust="spacingAndGlyphs" fill="#231f20">Control groups,</text>
<text x="403.02" y="514.30" font-size="9.8" textLength="96.54" lengthAdjust="spacingAndGlyphs" fill="#231f20">≥CR and MRD positive</text>
<text x="136.63" y="611.30" font-size="9.4" textLength="43.38" lengthAdjust="spacingAndGlyphs" fill="#231f20">No. at risk</text>
<text x="21.74" y="622.40" font-size="9.4" textLength="158.72" lengthAdjust="spacingAndGlyphs" fill="#231f20">Dara groups, ≥CR and MRD negative</text>
<text x="10.02" y="634.10" font-size="9.4" textLength="170.45" lengthAdjust="spacingAndGlyphs" fill="#231f20">Control groups, ≥CR and MRD negative</text>
<text x="25.34" y="645.80" font-size="9.4" textLength="155.11" lengthAdjust="spacingAndGlyphs" fill="#231f20">Dara groups, ≥CR and MRD positive</text>
<text x="13.52" y="657.50" font-size="9.4" textLength="166.95" lengthAdjust="spacingAndGlyphs" fill="#231f20">Control groups, ≥CR and MRD positive</text>
<text x="186.44" y="622.40" font-size="10.0" textLength="16.01" lengthAdjust="spacingAndGlyphs" fill="#231f20">331</text>
<text x="208.82" y="622.40" font-size="10.0" textLength="16.01" lengthAdjust="spacingAndGlyphs" fill="#231f20">330</text>
<text x="231.30" y="622.40" font-size="10.0" textLength="16.01" lengthAdjust="spacingAndGlyphs" fill="#231f20">321</text>
<text x="253.75" y="622.40" font-size="10.0" textLength="16.01" lengthAdjust="spacingAndGlyphs" fill="#231f20">312</text>
<text x="276.08" y="622.40" font-size="10.0" textLength="16.01" lengthAdjust="spacingAndGlyphs" fill="#231f20">296</text>
<text x="298.51" y="622.40" font-size="10.0" textLength="16.01" lengthAdjust="spacingAndGlyphs" fill="#231f20">273</text>
<text x="320.94" y="622.40" font-size="10.0" textLength="16.01" lengthAdjust="spacingAndGlyphs" fill="#231f20">226</text>
<text x="343.30" y="622.40" font-size="10.0" textLength="16.01" lengthAdjust="spacingAndGlyphs" fill="#231f20">127</text>
<text x="368.49" y="622.40" font-size="10.0" textLength="10.67" lengthAdjust="spacingAndGlyphs" fill="#231f20">88</text>
<text x="391.04" y="622.40" font-size="10.0" textLength="10.67" lengthAdjust="spacingAndGlyphs" fill="#231f20">48</text>
<text x="416.04" y="622.40" font-size="10.0" textLength="5.34" lengthAdjust="spacingAndGlyphs" fill="#231f20">3</text>
<text x="189.10" y="634.10" font-size="10.0" textLength="10.67" lengthAdjust="spacingAndGlyphs" fill="#231f20">82</text>
<text x="211.53" y="634.10" font-size="10.0" textLength="10.67" lengthAdjust="spacingAndGlyphs" fill="#231f20">82</text>
<text x="233.93" y="634.10" font-size="10.0" textLength="10.67" lengthAdjust="spacingAndGlyphs" fill="#231f20">81</text>
<text x="256.34" y="634.10" font-size="10.0" textLength="10.67" lengthAdjust="spacingAndGlyphs" fill="#231f20">79</text>
<text x="278.70" y="634.10" font-size="10.0" textLength="10.67" lengthAdjust="spacingAndGlyphs" fill="#231f20">74</text>
<text x="301.18" y="634.10" font-size="10.0" textLength="10.67" lengthAdjust="spacingAndGlyphs" fill="#231f20">63</text>
<text x="323.68" y="634.10" font-size="10.0" textLength="10.67" lengthAdjust="spacingAndGlyphs" fill="#231f20">39</text>
<text x="345.92" y="634.10" font-size="10.0" textLength="10.67" lengthAdjust="spacingAndGlyphs" fill="#231f20">13</text>
<text x="371.18" y="634.10" font-size="10.0" textLength="5.34" lengthAdjust="spacingAndGlyphs" fill="#231f20">9</text>
<text x="393.61" y="634.10" font-size="10.0" textLength="5.34" lengthAdjust="spacingAndGlyphs" fill="#231f20">7</text>
<text x="416.01" y="634.10" font-size="10.0" textLength="5.34" lengthAdjust="spacingAndGlyphs" fill="#231f20">0</text>
<text x="186.36" y="645.80" font-size="10.0" textLength="16.01" lengthAdjust="spacingAndGlyphs" fill="#231f20">245</text>
<text x="208.79" y="645.80" font-size="10.0" textLength="16.01" lengthAdjust="spacingAndGlyphs" fill="#231f20">245</text>
<text x="231.22" y="645.80" font-size="10.0" textLength="16.01" lengthAdjust="spacingAndGlyphs" fill="#231f20">235</text>
<text x="253.65" y="645.80" font-size="10.0" textLength="16.01" lengthAdjust="spacingAndGlyphs" fill="#231f20">223</text>
<text x="276.08" y="645.80" font-size="10.0" textLength="16.01" lengthAdjust="spacingAndGlyphs" fill="#231f20">208</text>
<text x="298.35" y="645.80" font-size="10.0" textLength="16.01" lengthAdjust="spacingAndGlyphs" fill="#231f20">184</text>
<text x="320.87" y="645.80" font-size="10.0" textLength="16.01" lengthAdjust="spacingAndGlyphs" fill="#231f20">142</text>
<text x="346.06" y="645.80" font-size="10.0" textLength="10.67" lengthAdjust="spacingAndGlyphs" fill="#231f20">85</text>
<text x="368.47" y="645.80" font-size="10.0" textLength="10.67" lengthAdjust="spacingAndGlyphs" fill="#231f20">54</text>
<text x="390.94" y="645.80" font-size="10.0" textLength="10.67" lengthAdjust="spacingAndGlyphs" fill="#231f20">27</text>
<text x="416.01" y="645.80" font-size="10.0" textLength="5.34" lengthAdjust="spacingAndGlyphs" fill="#231f20">0</text>
<text x="186.24" y="657.50" font-size="10.0" textLength="16.01" lengthAdjust="spacingAndGlyphs" fill="#231f20">196</text>
<text x="208.67" y="657.50" font-size="10.0" textLength="16.01" lengthAdjust="spacingAndGlyphs" fill="#231f20">196</text>
<text x="231.10" y="657.50" font-size="10.0" textLength="16.01" lengthAdjust="spacingAndGlyphs" fill="#231f20">186</text>
<text x="253.49" y="657.50" font-size="10.0" textLength="16.01" lengthAdjust="spacingAndGlyphs" fill="#231f20">164</text>
<text x="275.96" y="657.50" font-size="10.0" textLength="16.01" lengthAdjust="spacingAndGlyphs" fill="#231f20">143</text>
<text x="298.39" y="657.50" font-size="10.0" textLength="16.01" lengthAdjust="spacingAndGlyphs" fill="#231f20">108</text>
<text x="323.63" y="657.50" font-size="10.0" textLength="10.67" lengthAdjust="spacingAndGlyphs" fill="#231f20">69</text>
<text x="346.08" y="657.50" font-size="10.0" textLength="10.67" lengthAdjust="spacingAndGlyphs" fill="#231f20">36</text>
<text x="368.44" y="657.50" font-size="10.0" textLength="10.67" lengthAdjust="spacingAndGlyphs" fill="#231f20">20</text>
<text x="390.73" y="657.50" font-size="10.0" textLength="10.67" lengthAdjust="spacingAndGlyphs" fill="#231f20">14</text>
<text x="415.89" y="657.50" font-size="10.0" textLength="5.34" lengthAdjust="spacingAndGlyphs" fill="#231f20">1</text>
<text x="164.82" y="683.60" font-size="9.6" textLength="50.40" lengthAdjust="spacingAndGlyphs" fill="#231f20">≥CR groups</text>
<text x="331.06" y="684.00" font-size="9.6" textLength="52.11" lengthAdjust="spacingAndGlyphs" fill="#231f20">HR (95% CI)</text>
<text x="412.42" y="684.00" font-size="9.6" textLength="6.25" lengthAdjust="spacingAndGlyphs" font-style="italic" fill="#231f20">P</text>
<text x="421.05" y="684.00" font-size="9.6" textLength="22.58" lengthAdjust="spacingAndGlyphs" fill="#231f20">value</text>
<path d="M162.2 690.6H443.4M162.2 731.6H443.4" stroke="#4d4d4d" stroke-width="1.3" fill="none"/>
<text x="164.14" y="703.80" font-size="9.6" textLength="158.51" lengthAdjust="spacingAndGlyphs" fill="#231f20">Dara groups, ≥CR and MRD negative</text>
<text x="164.86" y="714.20" font-size="9.6" textLength="8.65" lengthAdjust="spacingAndGlyphs" fill="#231f20">vs</text>
<text x="164.32" y="724.40" font-size="9.6" textLength="170.15" lengthAdjust="spacingAndGlyphs" fill="#231f20">Control groups, ≥CR and MRD negative</text>
<text x="323.62" y="714.00" font-size="9.6" textLength="67.76" lengthAdjust="spacingAndGlyphs" fill="#231f20">0.51 (0.33-0.78)</text>
<text x="415.40" y="714.00" font-size="9.6" textLength="25.08" lengthAdjust="spacingAndGlyphs" fill="#231f20">.0019</text>
<text x="164.44" y="744.80" font-size="9.6" textLength="154.71" lengthAdjust="spacingAndGlyphs" fill="#231f20">Dara groups, ≥CR and MRD positive</text>
<text x="164.86" y="755.20" font-size="9.6" textLength="8.65" lengthAdjust="spacingAndGlyphs" fill="#231f20">vs</text>
<text x="164.32" y="765.40" font-size="9.6" textLength="167.05" lengthAdjust="spacingAndGlyphs" fill="#231f20">Control groups, ≥CR and MRD positive</text>
<text x="323.62" y="755.20" font-size="9.6" textLength="67.76" lengthAdjust="spacingAndGlyphs" fill="#231f20">0.53 (0.40-0.71)</text>
<text x="412.72" y="755.20" font-size="9.6" textLength="29.94" lengthAdjust="spacingAndGlyphs" fill="#231f20">&lt;.0001</text>
<rect x="0.75" y="0.75" width="518.5" height="776.5" fill="none" stroke="#000" stroke-width="1.6"/>
</svg>
</body></html>
